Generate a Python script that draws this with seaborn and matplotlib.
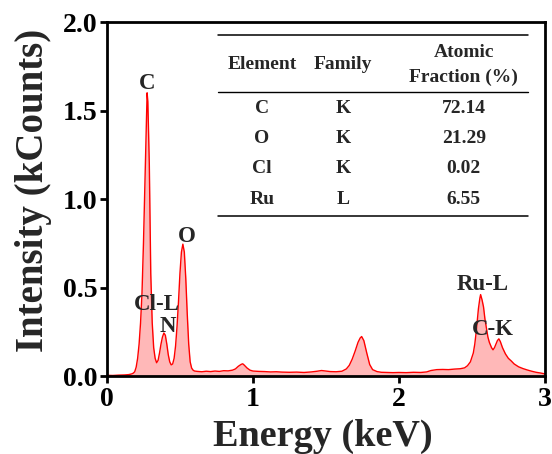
import numpy as np
import pandas as pd
import seaborn as sns
import matplotlib
matplotlib.use("Agg")
import matplotlib.pyplot as plt

# ---- data ----
energy_kev = [0.00, 0.04, 0.08, 0.12, 0.15, 0.17, 0.18, 0.19, 0.20, 0.21, 0.22, 0.23, 0.24,
              0.25, 0.26, 0.27, 0.275, 0.28, 0.29, 0.30, 0.31, 0.32, 0.33, 0.34, 0.35,
              0.36, 0.37, 0.38, 0.39, 0.40, 0.41, 0.42, 0.43, 0.44, 0.45, 0.46, 0.47,
              0.48, 0.49, 0.50, 0.51, 0.52, 0.53, 0.54, 0.55, 0.56, 0.57, 0.58, 0.59,
              0.60, 0.62, 0.65, 0.68, 0.71, 0.74, 0.77, 0.80, 0.83, 0.86, 0.88, 0.90,
              0.92, 0.93, 0.94, 0.96, 0.98, 1.00, 1.04, 1.08, 1.12, 1.16, 1.20, 1.25,
              1.30, 1.35, 1.40, 1.44, 1.47, 1.50, 1.53, 1.57, 1.61, 1.64, 1.66, 1.68,
              1.70, 1.72, 1.735, 1.745, 1.76, 1.78, 1.80, 1.82, 1.85, 1.88, 1.92, 1.96,
              2.00, 2.05, 2.10, 2.15, 2.19, 2.22, 2.26, 2.30, 2.34, 2.38, 2.42, 2.45,
              2.47, 2.49, 2.51, 2.52, 2.53, 2.545, 2.555, 2.56, 2.57, 2.58, 2.59, 2.60,
              2.61, 2.62, 2.635, 2.645, 2.655, 2.665, 2.675, 2.685, 2.695, 2.71, 2.73,
              2.75, 2.77, 2.79, 2.82, 2.85, 2.88, 2.91, 2.94, 2.97, 3.00]
intensity_kcounts = [0.004, 0.003, 0.005, 0.006, 0.008, 0.012, 0.016, 0.024, 0.05, 0.10, 0.18, 0.30, 0.47,
                     0.75, 1.10, 1.46, 1.60, 1.55, 1.20, 0.58, 0.30, 0.16, 0.10, 0.075, 0.088,
                     0.13, 0.18, 0.22, 0.243, 0.23, 0.18, 0.12, 0.08, 0.063, 0.068, 0.10, 0.17,
                     0.28, 0.42, 0.58, 0.70, 0.745, 0.70, 0.55, 0.35, 0.18, 0.08, 0.045, 0.033,
                     0.028, 0.026, 0.024, 0.027, 0.025, 0.028, 0.026, 0.030, 0.029, 0.033, 0.040, 0.055,
                     0.066, 0.069, 0.062, 0.045, 0.033, 0.028, 0.026, 0.025, 0.023, 0.024, 0.022, 0.021,
                     0.022, 0.020, 0.023, 0.027, 0.031, 0.028, 0.025, 0.024, 0.027, 0.040, 0.060, 0.095,
                     0.14, 0.19, 0.215, 0.223, 0.20, 0.13, 0.065, 0.036, 0.025, 0.021, 0.020, 0.019,
                     0.020, 0.019, 0.021, 0.020, 0.023, 0.031, 0.036, 0.037, 0.036, 0.039, 0.041, 0.046,
                     0.058, 0.080, 0.13, 0.18, 0.25, 0.38, 0.44, 0.46, 0.43, 0.39, 0.32, 0.27,
                     0.22, 0.19, 0.16, 0.148, 0.16, 0.18, 0.20, 0.21, 0.195, 0.16, 0.125,
                     0.10, 0.085, 0.068, 0.052, 0.042, 0.034, 0.027, 0.021, 0.017, 0.012]

peak_labels = ["C", "Cl-L", "N", "O", "Ru-L", "C-K"]
peak_label_x = [0.274, 0.342, 0.418, 0.548, 2.575, 2.644]
peak_label_y = [1.653, 0.403, 0.278, 0.790, 0.517, 0.261]

table_elements = ["C", "O", "Cl", "Ru"]
table_families = ["K", "K", "K", "L"]
table_fractions = ["72.14", "21.29", "0.02", "6.55"]

x_ticks = [0, 1, 2, 3]
y_ticks = [0.0, 0.5, 1.0, 1.5, 2.0]

# ---- style ----
sns.set_theme(style="ticks")
plt.rcParams["font.family"] = ["Liberation Serif", "DejaVu Serif"]
plt.rcParams["font.weight"] = "bold"
plt.rcParams["axes.labelweight"] = "bold"

fig = plt.figure(figsize=(5.52, 4.54), dpi=100)
ax = fig.add_axes([0.1938, 0.1718, 0.7932, 0.7797])

df = pd.DataFrame({"Energy": energy_kev, "Intensity": intensity_kcounts})
ax.fill_between(df["Energy"], 0, df["Intensity"], color="#ffb8b8", linewidth=0, zorder=1)
sns.lineplot(data=df, x="Energy", y="Intensity", ax=ax, color="#ff0000", linewidth=1.0, zorder=2)

ax.set_xlim(0, 3)
ax.set_ylim(0, 2.0)
ax.set_xticks(x_ticks)
ax.set_xticklabels([str(t) for t in x_ticks])
ax.set_yticks(y_ticks)
ax.set_yticklabels([f"{t:.1f}" for t in y_ticks])
ax.set_xlabel("Energy (keV)", fontsize=27.5, fontweight="bold")
ax.set_ylabel("Intensity (kCounts)", fontsize=28, fontweight="bold")
ax.xaxis.set_label_coords(0.493, -0.122)
ax.yaxis.set_label_coords(-0.125, 0.525)

for s in ax.spines.values():
    s.set_linewidth(2.0)
    s.set_color("black")
ax.tick_params(axis="both", direction="out", length=5, width=2.0, labelsize=20,
               colors="black", top=False, right=False)
ax.tick_params(axis="x", pad=3)
ax.tick_params(axis="y", pad=2)
for lab in ax.get_xticklabels() + ax.get_yticklabels():
    lab.set_fontweight("bold")

for t, px, py in zip(peak_labels, peak_label_x, peak_label_y):
    ax.text(px, py, t, fontsize=16.5, fontweight="bold", ha="center", va="center", zorder=3)

# ---- table ----
tr = ax.transAxes
x0, x1 = 0.253, 0.961
ax.plot([x0, x1], [0.963, 0.963], transform=tr, color="black", lw=1.1, zorder=3)
ax.plot([x0, x1], [0.802, 0.802], transform=tr, color="black", lw=1.0, zorder=3)
ax.plot([x0, x1], [0.452, 0.452], transform=tr, color="black", lw=1.1, zorder=3)
cols = [0.354, 0.539, 0.815]
tfs = 14
ax.text(cols[0], 0.881, "Element", transform=tr, ha="center", va="center", fontsize=tfs, fontweight="bold")
ax.text(cols[1], 0.881, "Family", transform=tr, ha="center", va="center", fontsize=tfs, fontweight="bold")
ax.text(cols[2], 0.915, "Atomic", transform=tr, ha="center", va="center", fontsize=tfs, fontweight="bold")
ax.text(cols[2], 0.845, "Fraction (%)", transform=tr, ha="center", va="center", fontsize=tfs, fontweight="bold")
row_y = [0.757, 0.672, 0.585, 0.500]
for el, fam, frac, ry in zip(table_elements, table_families, table_fractions, row_y):
    ax.text(cols[0], ry, el, transform=tr, ha="center", va="center", fontsize=tfs, fontweight="bold")
    ax.text(cols[1], ry, fam, transform=tr, ha="center", va="center", fontsize=tfs, fontweight="bold")
    ax.text(cols[2], ry, frac, transform=tr, ha="center", va="center", fontsize=tfs, fontweight="bold")

fig.savefig("out.png", dpi=100)
